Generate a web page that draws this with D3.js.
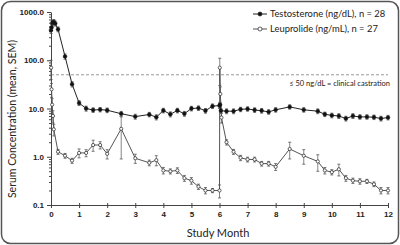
<!DOCTYPE html>
<html>
<head>
<meta charset="utf-8">
<script src="https://cdn.jsdelivr.net/npm/d3@7"></script>
<style>
  body { margin: 0; background: #fff; }
  svg { display: block; font-family: Lato, "Open Sans", sans-serif; }
  .axis path, .axis line { stroke: #444; }
  .axis text { fill: #222; font-size: 8px; font-weight: bold; }
</style>
</head>
<body>
<script>
"use strict";

// testosterone (ng/dL), filled circles
var testTime  = [0, 0.02, 0.05, 0.1, 0.15, 0.25, 0.5, 0.75, 1.0, 1.25, 1.5, 1.75, 2.0, 2.5, 3.0, 3.5, 3.75,
                 4.0, 4.25, 4.5, 4.75, 5.0, 5.25, 5.5, 5.75, 6.0, 6.02, 6.05, 6.25, 6.5, 6.75, 7.0, 7.25, 7.5,
                 7.75, 8.0, 8.5, 9.0, 9.5, 9.75, 10.0, 10.25, 10.5, 10.75, 11.0, 11.25, 11.5, 11.75, 12.0];
var testValue = [420, 480, 600, 620, 580, 440, 120, 32, 13, 10, 9.3, 9.5, 9.2, 7.8, 6.8, 7.5, 6.6,
                 9.1, 7.6, 9.1, 7.8, 10, 10.2, 9.0, 11.2, 11.5, 12, 9.0, 8.8, 8.8, 9.6, 9.8, 9.3, 9.0,
                 8.5, 9.4, 10.8, 9.4, 8.8, 7.6, 7.2, 7.0, 6.2, 7.0, 6.7, 6.7, 6.6, 6.2, 6.5];
var testSem   = [60, 70, 80, 80, 70, 50, 15, 4, 1.5, 1.2, 1, 1, 1, 0.9, 0.8, 0.8, 0.8,
                 1, 0.9, 1, 0.9, 1.1, 1.1, 1, 1.2, 1.5, 1.5, 1, 1, 1, 1, 1, 1, 1,
                 0.9, 1, 1.1, 1, 1, 0.8, 0.8, 0.8, 0.7, 0.8, 0.7, 0.7, 0.7, 0.7, 0.7];

// leuprolide (ng/mL), open circles
var leuTime  = [0.005, 0.02, 0.04, 0.07, 0.1, 0.25, 0.5, 0.75, 1.0, 1.25, 1.5, 1.75, 2.0, 2.5, 3.0, 3.5, 3.75,
                4.0, 4.25, 4.5, 4.75, 5.0, 5.25, 5.5, 5.75, 6.0, 6.01, 6.03, 6.07, 6.25, 6.5, 6.75, 7.0, 7.25,
                7.5, 7.75, 8.0, 8.5, 9.0, 9.5, 9.75, 10.0, 10.25, 10.5, 10.75, 11.0, 11.25, 11.5, 11.75, 12.0];
var leuValue = [70, 25, 12, 7, 3.7, 1.27, 1.05, 0.83, 1.2, 1.2, 1.75, 1.75, 1.15, 3.8, 0.93, 0.75, 0.85,
                0.52, 0.5, 0.52, 0.36, 0.32, 0.24, 0.2, 0.2, 0.2, 70, 20, 6.5, 2.0, 1.27, 0.95, 0.88, 0.88,
                0.72, 0.72, 0.62, 1.45, 1.05, 0.8, 0.52, 0.48, 0.55, 0.36, 0.32, 0.31, 0.31, 0.27, 0.2, 0.2];
var leuSem   = [30, 8, 4, 2, 1, 0.15, 0.12, 0.1, 0.25, 0.2, 0.45, 0.3, 0.25, 2.9, 0.2, 0.1, 0.2,
                0.08, 0.06, 0.07, 0.05, 0.05, 0.03, 0.03, 0.02, 0.06, 40, 8, 1.5, 0.25, 0.15, 0.12, 0.1, 0.1,
                0.08, 0.08, 0.1, 0.55, 0.35, 0.3, 0.08, 0.06, 0.15, 0.05, 0.04, 0.04, 0.03, 0.03, 0.03, 0.03];

var yTicks = [0.1, 1, 10, 100, 1000];
var xTicks = [0, 1, 2, 3, 4, 5, 6, 7, 8, 9, 10, 11, 12];
var castration = 50;
var legendLabels = ["Testosterone (ng/dL), n = 28", "Leuprolide (ng/mL), n = 27"];

var width = 400, height = 245;

var svg = d3.select("body").append("svg")
    .attr("width", width)
    .attr("height", height);

// rounded frame
svg.append("rect")
    .attr("x", 1.5).attr("y", 1.5)
    .attr("width", width - 3).attr("height", height - 3)
    .attr("rx", 9).attr("ry", 9)
    .attr("fill", "#fff")
    .attr("stroke", "#555")
    .attr("stroke-width", 1.5);

var x = d3.scaleLinear().domain([0, 12]).range([51, 388]);
var y = d3.scaleLog().domain([0.1, 1000]).range([205, 12]);

// threshold line
svg.append("line")
    .attr("x1", x(0)).attr("x2", x(12))
    .attr("y1", y(castration)).attr("y2", y(castration))
    .attr("stroke", "#999")
    .attr("stroke-dasharray", "3,2");

svg.append("text")
    .attr("x", 390).attr("y", y(castration) + 11)
    .attr("text-anchor", "end")
    .attr("font-size", "7.5px")
    .attr("fill", "#222")
    .text("\u2264 50 ng/dL = clinical castration");

// axes
svg.append("g")
    .attr("class", "axis")
    .attr("transform", "translate(" + x(0) + ",0)")
    .call(d3.axisLeft(y).tickValues(yTicks).tickFormat(d3.format(".1f")).tickSize(4).tickSizeOuter(0));

var minor = y.ticks().filter(function(d) { return yTicks.indexOf(d) < 0; });
svg.append("g")
    .attr("class", "axis")
    .attr("transform", "translate(" + x(0) + ",0)")
    .call(d3.axisLeft(y).tickValues(minor).tickFormat("").tickSize(2).tickSizeOuter(0))
    .select(".domain").remove();

var xAxis = svg.append("g")
    .attr("class", "axis")
    .attr("transform", "translate(0," + y(0.1) + ")")
    .call(d3.axisBottom(x).tickValues(xTicks).tickSize(3).tickSizeOuter(0).tickPadding(3));
xAxis.selectAll(".tick line").attr("y1", -2);

// axis titles
svg.append("text")
    .attr("transform", "translate(16," + 119 + ") rotate(-90)")
    .attr("text-anchor", "middle")
    .attr("font-size", "10.5px")
    .attr("fill", "#222")
    .text("Serum Concentration (mean, SEM)");

svg.append("text")
    .attr("x", 218).attr("y", 237)
    .attr("text-anchor", "middle")
    .attr("font-size", "11px")
    .attr("fill", "#222")
    .text("Study Month");

function drawSeries(times, values, sems, filled, lineColor) {
    var pts = times.map(function(t, i) { return { t: t, v: values[i], s: sems[i] }; });
    var g = svg.append("g");

    // error bars
    var eb = g.selectAll(".eb").data(pts).enter().append("g").attr("class", "eb");
    eb.append("line")
        .attr("x1", function(d) { return x(d.t); })
        .attr("x2", function(d) { return x(d.t); })
        .attr("y1", function(d) { return y(Math.max(d.v - d.s, 0.1)); })
        .attr("y2", function(d) { return y(d.v + d.s); })
        .attr("stroke", "#666").attr("stroke-width", 0.8);
    [function(d) { return d.v + d.s; }, function(d) { return Math.max(d.v - d.s, 0.1); }].forEach(function(f) {
        eb.append("line")
            .attr("x1", function(d) { return x(d.t) - 1.5; })
            .attr("x2", function(d) { return x(d.t) + 1.5; })
            .attr("y1", function(d) { return y(f(d)); })
            .attr("y2", function(d) { return y(f(d)); })
            .attr("stroke", "#555").attr("stroke-width", 0.8);
    });

    var line = d3.line()
        .x(function(d) { return x(d.t); })
        .y(function(d) { return y(d.v); });
    g.append("path")
        .datum(pts)
        .attr("d", line)
        .attr("fill", "none")
        .attr("stroke", lineColor)
        .attr("stroke-width", 1);

    g.selectAll("circle").data(pts).enter().append("circle")
        .attr("cx", function(d) { return x(d.t); })
        .attr("cy", function(d) { return y(d.v); })
        .attr("r", filled ? 1.9 : 1.6)
        .attr("fill", filled ? "#111" : "#fff")
        .attr("stroke", "#222")
        .attr("stroke-width", filled ? 0.5 : 0.7);
}

drawSeries(leuTime, leuValue, leuSem, false, "#555");
drawSeries(testTime, testValue, testSem, true, "#222");

// legend
var legend = svg.append("g");
legendLabels.forEach(function(lbl, i) {
    var ly = 14 + i * 15;
    legend.append("line")
        .attr("x1", 253).attr("x2", 267)
        .attr("y1", ly).attr("y2", ly)
        .attr("stroke", i === 0 ? "#222" : "#555");
    legend.append("circle")
        .attr("cx", 260).attr("cy", ly)
        .attr("r", 2)
        .attr("fill", i === 0 ? "#111" : "#fff")
        .attr("stroke", "#222")
        .attr("stroke-width", 0.7);
    legend.append("text")
        .attr("x", 270).attr("y", ly + 3)
        .attr("font-size", "9.4px")
        .attr("fill", "#222")
        .text(lbl);
});
</script>
</body>
</html>
